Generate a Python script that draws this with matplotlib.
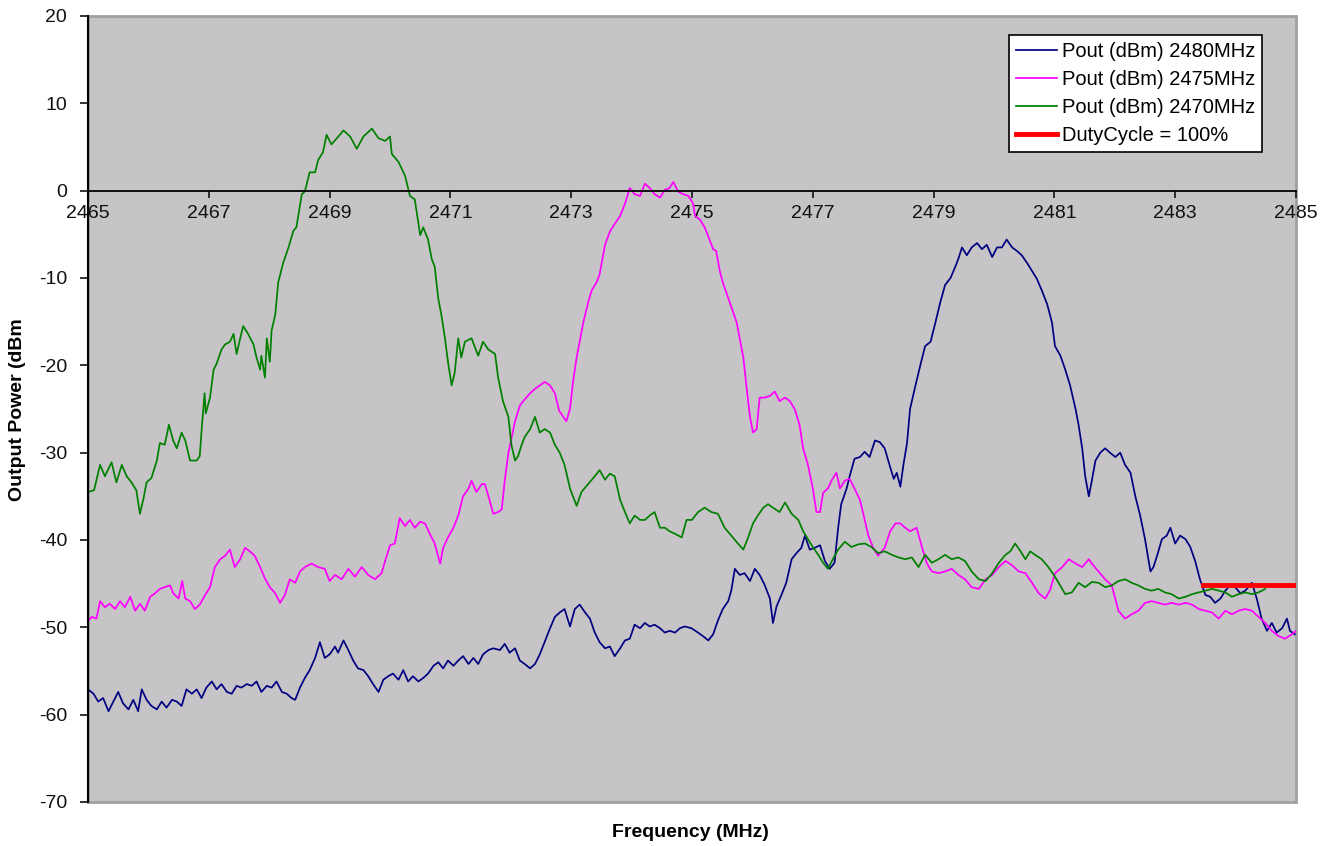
import matplotlib.pyplot as plt
from matplotlib.patches import Rectangle

# values
f2480 = [2465.0, 2465.09, 2465.17, 2465.25, 2465.34, 2465.42, 2465.5, 2465.58, 2465.67, 2465.75,
         2465.83, 2465.89, 2465.97, 2466.05, 2466.14, 2466.22, 2466.3, 2466.39, 2466.47, 2466.55,
         2466.63, 2466.72, 2466.8, 2466.88, 2466.96, 2467.05, 2467.13, 2467.21, 2467.3, 2467.38,
         2467.46, 2467.54, 2467.63, 2467.71, 2467.79, 2467.87, 2467.96, 2468.04, 2468.12, 2468.21,
         2468.29, 2468.37, 2468.43, 2468.51, 2468.59, 2468.67, 2468.76, 2468.84, 2468.92, 2469.0,
         2469.09, 2469.14, 2469.23, 2469.31, 2469.39, 2469.47, 2469.56, 2469.64, 2469.72, 2469.81,
         2469.89, 2469.97, 2470.05, 2470.14, 2470.22, 2470.3, 2470.38, 2470.47, 2470.55, 2470.63,
         2470.72, 2470.8, 2470.88, 2470.96, 2471.05, 2471.13, 2471.21, 2471.3, 2471.38, 2471.46,
         2471.54, 2471.63, 2471.71, 2471.82, 2471.9, 2471.98, 2472.07, 2472.15, 2472.23, 2472.32,
         2472.4, 2472.48, 2472.56, 2472.65, 2472.73, 2472.81, 2472.89, 2472.98, 2473.06, 2473.14,
         2473.23, 2473.31, 2473.39, 2473.47, 2473.56, 2473.64, 2473.72, 2473.81, 2473.89, 2473.97,
         2474.05, 2474.14, 2474.22, 2474.3, 2474.38, 2474.47, 2474.55, 2474.63, 2474.72, 2474.8,
         2474.88, 2474.99, 2475.1, 2475.18, 2475.27, 2475.35, 2475.43, 2475.51, 2475.6, 2475.65,
         2475.71, 2475.79, 2475.87, 2475.96, 2476.04, 2476.12, 2476.2, 2476.29, 2476.34, 2476.4,
         2476.48, 2476.56, 2476.65, 2476.73, 2476.81, 2476.87, 2476.95, 2477.03, 2477.12, 2477.2,
         2477.28, 2477.36, 2477.42, 2477.47, 2477.56, 2477.61, 2477.69, 2477.78, 2477.86, 2477.94,
         2478.03, 2478.11, 2478.19, 2478.27, 2478.34, 2478.39, 2478.45, 2478.5, 2478.56, 2478.61,
         2478.7, 2478.78, 2478.86, 2478.95, 2479.03, 2479.11, 2479.19, 2479.28, 2479.36, 2479.41,
         2479.47, 2479.55, 2479.63, 2479.72, 2479.8, 2479.88, 2479.97, 2480.05, 2480.13, 2480.21,
         2480.3, 2480.38, 2480.46, 2480.55, 2480.63, 2480.71, 2480.79, 2480.88, 2480.96, 2481.01,
         2481.1, 2481.18, 2481.26, 2481.35, 2481.4, 2481.46, 2481.51, 2481.57, 2481.62, 2481.68,
         2481.76, 2481.84, 2481.92, 2482.01, 2482.09, 2482.17, 2482.26, 2482.34, 2482.42, 2482.5,
         2482.59, 2482.64, 2482.7, 2482.78, 2482.86, 2482.92, 2483.0, 2483.08, 2483.17, 2483.25,
         2483.33, 2483.41, 2483.5, 2483.58, 2483.66, 2483.75, 2483.83, 2483.91, 2483.99, 2484.08,
         2484.16, 2484.27, 2484.35, 2484.43, 2484.52, 2484.6, 2484.68, 2484.77, 2484.85, 2484.9,
         2484.98]
p2480 = [-57.1, -57.6, -58.5, -58.1, -59.6, -58.5, -57.4, -58.7, -59.4, -58.3,
         -59.6, -57.1, -58.3, -59.0, -59.4, -58.5, -59.2, -58.3, -58.5, -59.0,
         -57.1, -57.6, -57.1, -58.1, -56.9, -56.2, -57.1, -56.5, -57.4, -57.6,
         -56.7, -56.9, -56.5, -56.7, -56.2, -57.4, -56.7, -56.9, -56.2, -57.4,
         -57.6, -58.1, -58.3, -56.9, -55.8, -54.9, -53.5, -51.7, -53.5, -53.1,
         -52.2, -52.9, -51.5, -52.6, -53.8, -54.7, -54.9, -55.6, -56.5, -57.4,
         -56.0, -55.6, -55.3, -56.0, -54.9, -56.2, -55.6, -56.2, -55.8, -55.3,
         -54.4, -54.0, -54.7, -53.8, -54.4, -53.8, -53.3, -54.2, -53.5, -54.2,
         -53.1, -52.6, -52.4, -52.6, -51.9, -52.9, -52.4, -53.8, -54.2, -54.7,
         -54.2, -53.1, -51.7, -50.1, -48.8, -48.3, -47.9, -49.9, -47.9, -47.4,
         -48.3, -49.0, -50.6, -51.7, -52.4, -52.2, -53.3, -52.4, -51.5, -51.3,
         -49.7, -50.1, -49.5, -49.9, -49.7, -50.1, -50.6, -50.4, -50.6, -50.1,
         -49.9, -50.1, -50.6, -51.0, -51.5, -50.8, -49.2, -47.9, -47.0, -45.8,
         -43.3, -44.0, -43.8, -44.7, -43.3, -44.0, -45.1, -46.7, -49.5, -47.6,
         -46.3, -44.9, -42.2, -41.5, -40.9, -39.5, -41.1, -40.9, -40.6, -42.4,
         -43.3, -42.6, -38.6, -35.9, -34.1, -32.7, -30.7, -30.5, -29.9, -30.5,
         -28.6, -28.8, -29.5, -31.4, -33.0, -32.3, -33.9, -31.4, -28.9, -25.0,
         -22.3, -20.0, -17.8, -17.3, -15.1, -12.8, -10.8, -10.0, -8.7, -7.8,
         -6.5, -7.4, -6.5, -6.0, -6.7, -6.2, -7.6, -6.5, -6.5, -5.6,
         -6.5, -6.9, -7.4, -8.3, -9.2, -10.1, -11.4, -13.0, -15.1, -17.8,
         -18.9, -20.5, -22.3, -25.0, -26.8, -29.5, -32.7, -35.0, -33.2, -30.9,
         -30.0, -29.5, -30.0, -30.5, -30.0, -31.4, -32.3, -35.0, -37.2, -39.9,
         -43.6, -43.1, -41.8, -39.9, -39.5, -38.6, -40.4, -39.5, -39.9, -40.8,
         -42.4, -44.5, -46.3, -46.5, -47.2, -46.7, -45.8, -45.2, -45.4, -46.1,
         -45.8, -44.9, -46.7, -49.0, -50.4, -49.5, -50.6, -50.1, -49.0, -50.4,
         -50.8]

f2475 = [2464.98, 2465.06, 2465.14, 2465.2, 2465.28, 2465.36, 2465.45, 2465.53, 2465.61, 2465.7,
         2465.78, 2465.86, 2465.94, 2466.03, 2466.11, 2466.19, 2466.27, 2466.36, 2466.41, 2466.5,
         2466.56, 2466.61, 2466.69, 2466.77, 2466.85, 2466.94, 2467.02, 2467.1, 2467.19, 2467.27,
         2467.35, 2467.43, 2467.52, 2467.6, 2467.68, 2467.76, 2467.85, 2467.93, 2468.01, 2468.1,
         2468.18, 2468.26, 2468.34, 2468.43, 2468.51, 2468.59, 2468.7, 2468.81, 2468.92, 2469.0,
         2469.09, 2469.2, 2469.31, 2469.42, 2469.53, 2469.64, 2469.75, 2469.86, 2469.92, 2470.0,
         2470.08, 2470.16, 2470.25, 2470.33, 2470.41, 2470.5, 2470.58, 2470.66, 2470.74, 2470.83,
         2470.88, 2470.96, 2471.05, 2471.13, 2471.21, 2471.3, 2471.35, 2471.43, 2471.52, 2471.57,
         2471.63, 2471.71, 2471.79, 2471.85, 2471.9, 2471.96, 2472.01, 2472.07, 2472.15, 2472.23,
         2472.32, 2472.4, 2472.48, 2472.56, 2472.65, 2472.73, 2472.8, 2472.87, 2472.92, 2472.98,
         2473.03, 2473.09, 2473.14, 2473.2, 2473.28, 2473.34, 2473.42, 2473.47, 2473.56, 2473.64,
         2473.72, 2473.81, 2473.89, 2473.97, 2474.05, 2474.14, 2474.22, 2474.3, 2474.38, 2474.47,
         2474.55, 2474.63, 2474.69, 2474.77, 2474.85, 2474.94, 2475.02, 2475.05, 2475.13, 2475.21,
         2475.29, 2475.35, 2475.4, 2475.46, 2475.51, 2475.57, 2475.65, 2475.74, 2475.79, 2475.85,
         2475.9, 2475.96, 2476.01, 2476.07, 2476.12, 2476.2, 2476.29, 2476.37, 2476.45, 2476.54,
         2476.62, 2476.7, 2476.78, 2476.84, 2476.92, 2477.0, 2477.06, 2477.12, 2477.17, 2477.25,
         2477.31, 2477.39, 2477.45, 2477.53, 2477.61, 2477.69, 2477.78, 2477.86, 2477.92, 2478.0,
         2478.08, 2478.19, 2478.28, 2478.37, 2478.45, 2478.53, 2478.61, 2478.72, 2478.81, 2478.89,
         2478.97, 2479.08, 2479.19, 2479.3, 2479.41, 2479.52, 2479.63, 2479.75, 2479.86, 2479.97,
         2480.08, 2480.19, 2480.3, 2480.41, 2480.52, 2480.63, 2480.74, 2480.85, 2480.93, 2481.01,
         2481.13, 2481.24, 2481.35, 2481.46, 2481.57, 2481.62, 2481.73, 2481.84, 2481.95, 2482.06,
         2482.17, 2482.28, 2482.39, 2482.5, 2482.61, 2482.72, 2482.83, 2482.94, 2483.06, 2483.17,
         2483.28, 2483.39, 2483.5, 2483.61, 2483.72, 2483.83, 2483.94, 2484.05, 2484.16, 2484.27,
         2484.38, 2484.49, 2484.6, 2484.71, 2484.82, 2484.93, 2485.0]
p2475 = [-49.5, -48.8, -49.0, -47.0, -47.7, -47.3, -47.9, -47.0, -47.7, -46.5,
         -48.1, -47.3, -48.1, -46.5, -46.1, -45.6, -45.4, -45.2, -46.1, -46.7,
         -44.7, -46.7, -47.0, -47.9, -47.4, -46.3, -45.4, -43.1, -42.2, -41.8,
         -41.1, -43.1, -42.2, -40.9, -41.3, -41.8, -43.1, -44.4, -45.4, -46.1,
         -47.2, -46.3, -44.5, -44.9, -43.6, -43.1, -42.7, -43.1, -43.3, -44.7,
         -44.0, -44.5, -43.3, -44.2, -43.1, -44.0, -44.5, -43.8, -42.4, -40.6,
         -40.4, -37.5, -38.4, -37.7, -38.6, -37.9, -38.1, -39.3, -40.4, -42.7,
         -40.9, -39.7, -38.6, -37.2, -35.0, -34.1, -33.2, -34.5, -33.6, -33.6,
         -35.0, -37.0, -36.8, -36.5, -33.2, -30.0, -28.4, -26.4, -24.6, -23.9,
         -23.2, -22.7, -22.3, -21.9, -22.3, -23.2, -25.2, -25.9, -26.4, -25.0,
         -21.9, -19.1, -17.3, -15.1, -12.8, -11.4, -10.5, -9.6, -6.2, -4.7,
         -3.8, -2.9, -1.5, 0.3, -0.4, -0.6, 0.8, 0.3, -0.4, -0.8,
         0.1, 0.3, 1.0, -0.1, -0.4, -0.6, -1.5, -2.9, -3.3, -4.2,
         -5.6, -6.7, -6.9, -9.2, -10.5, -11.7, -13.3, -15.1, -16.9, -19.1,
         -22.3, -25.9, -27.7, -27.3, -23.7, -23.7, -23.5, -23.0, -24.1, -23.7,
         -24.1, -25.0, -26.8, -29.5, -31.4, -34.1, -36.8, -36.8, -34.6, -34.1,
         -33.2, -32.3, -34.1, -33.2, -33.0, -34.1, -35.4, -37.7, -39.5, -40.9,
         -41.8, -40.9, -39.0, -38.1, -38.1, -38.6, -39.0, -38.6, -40.9, -42.7,
         -43.6, -43.8, -43.6, -43.3, -44.0, -44.5, -45.4, -45.6, -44.5, -44.0,
         -43.1, -42.4, -42.9, -43.6, -43.8, -44.9, -46.1, -46.7, -45.7, -43.8,
         -43.1, -42.2, -42.7, -43.1, -42.2, -42.7, -43.6, -44.5, -45.2, -48.1,
         -49.0, -48.5, -48.1, -47.2, -47.0, -47.2, -47.4, -47.2, -47.4, -47.2,
         -47.4, -47.9, -48.1, -48.3, -49.0, -48.1, -48.5, -48.1, -47.9, -48.1,
         -48.8, -49.5, -50.4, -51.0, -51.3, -50.8, -50.4]

f2470 = [2465.0, 2465.1, 2465.2, 2465.28, 2465.39, 2465.47, 2465.56, 2465.64, 2465.72, 2465.8,
         2465.86, 2465.92, 2465.97, 2466.05, 2466.14, 2466.19, 2466.27, 2466.34, 2466.41, 2466.47,
         2466.55, 2466.61, 2466.69, 2466.8, 2466.85, 2466.88, 2466.93, 2466.95, 2467.02, 2467.08,
         2467.13, 2467.21, 2467.27, 2467.35, 2467.41, 2467.46, 2467.52, 2467.57, 2467.65, 2467.74,
         2467.79, 2467.85, 2467.87, 2467.93, 2467.96, 2468.01, 2468.04, 2468.1, 2468.15, 2468.23,
         2468.32, 2468.4, 2468.45, 2468.54, 2468.59, 2468.67, 2468.76, 2468.81, 2468.89, 2468.95,
         2469.03, 2469.12, 2469.23, 2469.34, 2469.45, 2469.56, 2469.7, 2469.81, 2469.92, 2470.0,
         2470.03, 2470.14, 2470.25, 2470.33, 2470.41, 2470.5, 2470.55, 2470.63, 2470.69, 2470.74,
         2470.8, 2470.85, 2470.91, 2470.96, 2471.02, 2471.07, 2471.13, 2471.18, 2471.24, 2471.35,
         2471.46, 2471.54, 2471.63, 2471.74, 2471.79, 2471.87, 2471.96, 2472.01, 2472.07, 2472.12,
         2472.18, 2472.23, 2472.32, 2472.4, 2472.48, 2472.56, 2472.65, 2472.73, 2472.81, 2472.89,
         2472.98, 2473.09, 2473.17, 2473.28, 2473.39, 2473.47, 2473.56, 2473.64, 2473.72, 2473.81,
         2473.89, 2473.97, 2474.05, 2474.14, 2474.22, 2474.3, 2474.38, 2474.47, 2474.55, 2474.63,
         2474.72, 2474.83, 2474.91, 2475.0, 2475.1, 2475.21, 2475.32, 2475.43, 2475.54, 2475.65,
         2475.76, 2475.85, 2475.93, 2476.01, 2476.09, 2476.18, 2476.26, 2476.34, 2476.45, 2476.54,
         2476.65, 2476.76, 2476.84, 2476.92, 2477.0, 2477.09, 2477.17, 2477.25, 2477.34, 2477.42,
         2477.53, 2477.64, 2477.75, 2477.86, 2477.97, 2478.08, 2478.19, 2478.31, 2478.42, 2478.53,
         2478.64, 2478.75, 2478.86, 2478.97, 2479.08, 2479.19, 2479.3, 2479.41, 2479.52, 2479.63,
         2479.75, 2479.86, 2479.97, 2480.08, 2480.19, 2480.27, 2480.35, 2480.44, 2480.52, 2480.6,
         2480.68, 2480.79, 2480.9, 2480.99, 2481.07, 2481.18, 2481.29, 2481.4, 2481.51, 2481.62,
         2481.73, 2481.84, 2481.95, 2482.06, 2482.17, 2482.28, 2482.39, 2482.5, 2482.61, 2482.72,
         2482.83, 2482.94, 2483.06, 2483.17, 2483.28, 2483.39, 2483.5, 2483.61, 2483.72, 2483.83,
         2483.94, 2484.05, 2484.16, 2484.27, 2484.38, 2484.49]
p2470 = [-34.5, -34.3, -31.4, -32.7, -31.1, -33.4, -31.4, -32.7, -33.4, -34.3,
         -37.0, -35.2, -33.4, -32.9, -30.9, -28.9, -29.1, -26.8, -28.6, -29.5,
         -27.7, -28.6, -30.9, -30.9, -30.4, -27.5, -23.2, -25.5, -23.7, -20.5,
         -19.8, -18.2, -17.6, -17.3, -16.4, -18.7, -16.9, -15.5, -16.4, -17.6,
         -19.1, -20.5, -18.9, -21.4, -16.9, -19.6, -16.0, -14.2, -10.5, -8.3,
         -6.5, -4.6, -4.2, -0.4, -0.1, 2.1, 2.1, 3.5, 4.4, 6.4,
         5.3, 6.0, 6.9, 6.2, 4.8, 6.2, 7.1, 6.0, 5.7, 6.2,
         4.2, 3.3, 1.7, -0.6, -1.0, -5.1, -4.2, -5.6, -7.8, -8.7,
         -12.4, -14.2, -16.9, -19.6, -22.3, -20.9, -16.9, -19.1, -17.3, -16.9,
         -18.9, -17.3, -18.2, -18.7, -21.4, -24.1, -25.9, -29.1, -30.9, -30.4,
         -29.1, -28.2, -27.3, -25.9, -27.7, -27.3, -27.7, -29.1, -30.0, -31.4,
         -34.1, -36.1, -34.5, -33.6, -32.7, -32.0, -33.1, -32.4, -32.7, -35.4,
         -36.8, -38.1, -37.2, -37.7, -37.7, -37.2, -36.8, -38.6, -38.6, -39.0,
         -39.3, -39.7, -37.7, -37.7, -36.8, -36.3, -36.8, -37.0, -38.6, -39.5,
         -40.4, -41.1, -39.7, -38.1, -37.2, -36.3, -35.9, -36.3, -36.8, -35.7,
         -37.0, -37.7, -39.0, -39.9, -40.8, -41.7, -42.6, -43.3, -42.1, -41.1,
         -40.2, -40.8, -40.5, -40.4, -40.8, -41.5, -41.3, -41.7, -42.0, -42.2,
         -42.0, -43.1, -41.7, -42.6, -42.2, -41.7, -42.2, -42.0, -42.4, -43.6,
         -44.5, -44.7, -43.8, -42.6, -41.7, -41.3, -40.4, -41.3, -42.2, -41.3,
         -41.7, -42.2, -43.1, -44.0, -44.9, -46.2, -46.0, -44.9, -45.4, -44.8,
         -44.9, -45.4, -45.2, -44.7, -44.5, -44.9, -45.2, -45.6, -45.8, -45.6,
         -46.0, -46.2, -46.7, -46.5, -46.2, -46.0, -45.8, -45.6, -45.8, -46.0,
         -46.5, -46.2, -46.0, -46.2, -46.0, -45.6]

duty_f = [2483.46, 2485.0]
duty_p = [-45.1, -45.1]

labels = ["Pout (dBm) 2480MHz", "Pout (dBm) 2475MHz", "Pout (dBm) 2470MHz", "DutyCycle = 100%"]

plt.rcParams["font.family"] = ["Liberation Sans", "DejaVu Sans"]
plt.rcParams["axes.unicode_minus"] = False

fig = plt.figure(figsize=(13.27, 8.46), dpi=100)
ax = fig.add_axes([88 / 1327, 1 - 802 / 846, (1296 - 88) / 1327, (802 - 16) / 846])
ax.set_facecolor("#C6C4C6")

ax.plot(f2480, p2480, color="#000080", lw=1.25, label=labels[0])
ax.plot(f2475, p2475, color="#FF00FF", lw=1.25, label=labels[1])
ax.plot(f2470, p2470, color="#008000", lw=1.25, label=labels[2])
ax.plot(duty_f, duty_p, color="#FF0000", lw=3.5, label=labels[3])

ax.set_xlim(2465, 2485)
ax.set_ylim(-70, 20)
ax.set_xticks(range(2465, 2486, 2))
ax.set_yticks(range(-70, 21, 10))

# x axis crosses at 0 like in Excel
ax.spines["bottom"].set_position(("data", 0))
ax.spines["bottom"].set_linewidth(1.3)
ax.spines["left"].set_linewidth(1.5)
for s in ["top", "right"]:
    ax.spines[s].set_visible(False)
ax.add_patch(Rectangle((0, 0), 1, 1, transform=ax.transAxes, fill=False,
                       ec="#A0A0A0", lw=2, clip_on=False, zorder=0.5))

ax.tick_params(axis="x", direction="out", length=5, width=1.2, pad=5, labelsize=14, colors="#111111")
ax.tick_params(axis="y", direction="out", length=6, width=1.2, pad=9, labelsize=14, colors="#111111")

leg = ax.legend(loc="upper right", bbox_to_anchor=(1262 / 1327, 1 - 35 / 846),
                bbox_transform=fig.transFigure, fontsize=14.5, frameon=True, fancybox=False,
                borderaxespad=0, handlelength=2.0, handletextpad=0.25, labelspacing=0.45,
                borderpad=0.35)
leg.get_frame().set_edgecolor("black")
leg.get_frame().set_linewidth(1.2)
leg.get_frame().set_facecolor("white")
leg.get_frame().set_alpha(1)

fig.text(690 / 1327, 1 - 832 / 846, "Frequency (MHz)", ha="center", va="center",
         fontsize=14, fontweight="bold")
fig.text(18 / 1327, 1 - 410 / 846, "Output Power (dBm", ha="center", va="center",
         rotation=90, fontsize=14, fontweight="bold")

fig.savefig("out.png", dpi=100)
